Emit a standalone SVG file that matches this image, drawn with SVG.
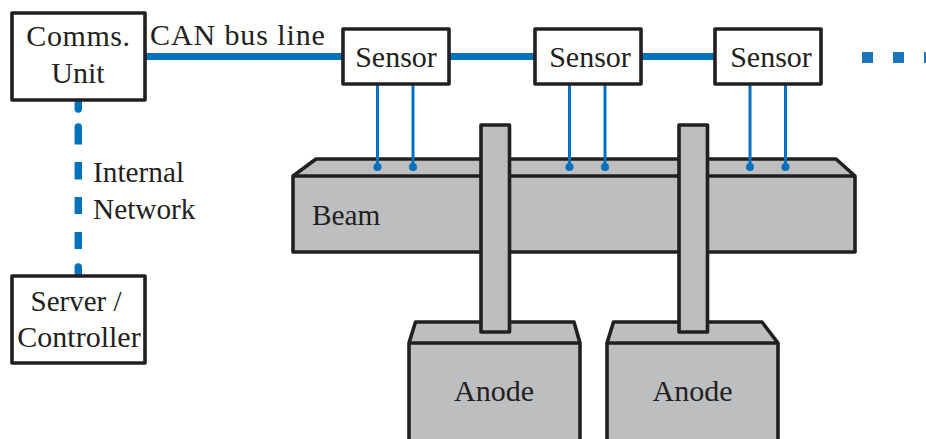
<svg xmlns="http://www.w3.org/2000/svg" width="926" height="439" viewBox="0 0 926 439">
<style>
text{font-family:"Liberation Serif","Times New Roman",serif;font-size:30px;fill:#231f20}
.m{text-anchor:middle}
.s{font-size:29.300px}
.box{fill:#fff;stroke:#231f20;stroke-width:3.600;stroke-linejoin:round}
.g{fill:#bcbec0;stroke:#231f20;stroke-width:3.600;stroke-linejoin:round}
.bus{stroke:#0071bc;stroke-width:7;fill:none}
.net{stroke:#0071bc;stroke-width:7.400;fill:none}
.tap{stroke:#0071bc;stroke-width:3;fill:none}
.dot{fill:#0071bc}
.sq{fill:#1b75bc}
</style>
<rect width="926" height="439" fill="#fff"/>
<g id="beam">
<path class="g" d="M293 176L316 159H836L855 176V252H293Z"/>
<path class="g" d="M293 176H855"/>
<text class="s" x="312" y="225">Beam</text>
</g>
<g id="anode-1">
<path class="g" d="M409 343L415.500 322H574L580 343V445H409Z"/>
<path class="g" d="M409 343H580"/>
<text class="m" x="494" y="401">Anode</text>
</g>
<g id="anode-2">
<path class="g" d="M607 343L613.500 322H762L778 343V445H607Z"/>
<path class="g" d="M607 343H778"/>
<text class="m" x="692.500" y="401">Anode</text>
</g>
<g id="post-1"><rect class="g" x="481" y="125" width="28.500" height="207"/></g>
<g id="post-2"><rect class="g" x="679" y="125" width="28.500" height="207"/></g>
<g id="connectors">
<path class="bus" d="M145 56.500H343M449 56.500H535M641 56.500H715"/>
<path class="net" d="M78.300 101V109"/>
<circle class="dot" cx="78.300" cy="109" r="3.700"/>
<circle class="dot" cx="78.300" cy="127" r="3.700"/>
<path class="net" d="M78.300 127V144.500M78.300 162V179.500M78.300 197V214M78.300 232V249M78.300 267V275"/>
<circle class="dot" cx="78.300" cy="267" r="3.700"/>
<path class="tap" d="M377.500 84V167M413 84V167M569.500 84V167M605 84V167M750 84V167M785.500 84V167"/>
<circle class="dot" cx="377.500" cy="167" r="4"/>
<circle class="dot" cx="413" cy="167" r="4"/>
<circle class="dot" cx="569.500" cy="167" r="4"/>
<circle class="dot" cx="605" cy="167" r="4"/>
<circle class="dot" cx="750" cy="167" r="4"/>
<circle class="dot" cx="785.500" cy="167" r="4"/>
<rect class="sq" x="862" y="52" width="11" height="11"/>
<rect class="sq" x="893" y="52" width="11" height="11"/>
<rect class="sq" x="924" y="52" width="2" height="11"/>
</g>
<g id="comms-unit">
<rect class="box" x="12" y="13" width="133" height="87"/>
<text class="m" x="78.500" y="46" letter-spacing="0.600">Comms.</text>
<text class="m" x="78" y="83">Unit</text>
</g>
<g id="server-controller">
<rect class="box" x="12" y="276" width="133" height="87"/>
<text class="m" x="76" y="311" font-size="29" style="font-size:29px">Server /</text>
<text class="m" x="79" y="347">Controller</text>
</g>
<g id="sensor-1"><rect class="box" x="343" y="29" width="106" height="55"/><text class="m" x="396" y="67">Sensor</text></g>
<g id="sensor-2"><rect class="box" x="535" y="29" width="106" height="55"/><text class="m" x="590" y="67">Sensor</text></g>
<g id="sensor-3"><rect class="box" x="715" y="29" width="106" height="55"/><text class="m" x="771" y="67">Sensor</text></g>
<g id="labels">
<text x="150" y="45" letter-spacing="0.900">CAN bus line</text>
<text class="s" x="93" y="182">Internal</text>
<text class="s" x="93" y="219">Network</text>
</g>
</svg>
